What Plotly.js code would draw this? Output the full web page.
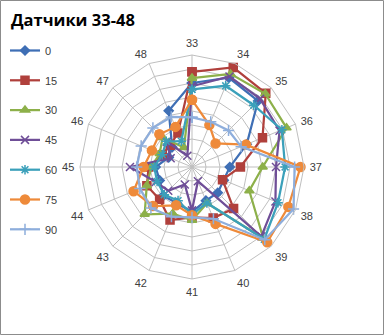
<!DOCTYPE html>
<html>
<head>
<meta charset="utf-8">
<script src="https://cdn.plot.ly/plotly-3.0.1.min.js"></script>
<style>html,body{margin:0;padding:0;background:#fff}#chart{width:384px;height:335px}</style>
</head>
<body>
<div id="chart"></div>
<script>
var categories = ["33","34","35","36","37","38","39","40","41","42","43","44","45","46","47","48"];
var seriesNames = ["0","15","30","45","60","75","90"];
var s0  = [6.0, 6.9, 6.67, 4.23, 2.7, 2.45, 2.6, 2.6, 3.2, 2.8, 2.9, 2.5, 2.6, 1.8, 2.0, 4.35];
var s15 = [6.8, 7.7, 7.45, 5.45, 3.46, 2.36, 4.2, 3.95, 3.6, 4.1, 3.27, 3.49, 3.1, 2.3, 2.2, 2.63];
var s30 = [6.34, 7.2, 7.4, 7.31, 5.05, 4.43, 7.2, 2.8, 3.8, 3.6, 4.78, 3.5, 2.9, 2.5, 2.97, 1.5];
var s45 = [5.77, 7.0, 6.88, 6.77, 6.0, 6.45, 7.0, 1.1, 3.1, 1.35, 2.4, 2.8, 4.43, 1.65, 2.55, 0.87];
var s60 = [5.54, 6.28, 6.24, 6.95, 6.65, 6.65, 7.3, 2.78, 3.4, 2.6, 2.8, 2.7, 2.7, 2.3, 2.6, 2.0];
var s75 = [4.8, 3.24, 2.38, 4.18, 7.75, 7.45, 7.6, 4.4, 3.45, 2.96, 3.94, 4.52, 3.46, 3.1, 3.3, 3.1];
var s90 = [3.55, 3.5, 3.69, 3.8, 7.33, 7.85, 7.35, 4.0, 3.6, 3.84, 4.15, 4.03, 3.95, 3.93, 3.95, 3.87];

var allSeries = [s0, s15, s30, s45, s60, s75, s90];
var colors = ["#3F6FB5", "#B0403C", "#8DB04A", "#6F4E97", "#3BA0BA", "#EE8A3A", "#8EAEDC"];
var symbols = ["diamond", "square", "triangle-up", "x-thin-open", "asterisk-open", "circle", "cross-thin-open"];
var sizes = [7, 8, 8, 8, 8, 9, 8];

var traces = allSeries.map(function(vals, i) {
  var r = vals.concat([vals[0]]);
  var th = categories.concat([categories[0]]);
  return {
    type: "scatterpolar",
    mode: "lines+markers",
    name: seriesNames[i],
    legendgroup: seriesNames[i],
    r: r,
    theta: th,
    line: {color: colors[i], width: 2.25},
    marker: {symbol: symbols[i], size: sizes[i], color: colors[i],
             line: {color: colors[i], width: 1.5}},
    cliponaxis: false
  };
});

var layout = {
  width: 384, height: 335,
  margin: {l: 0, r: 0, t: 0, b: 0},
  paper_bgcolor: "#ffffff",
  font: {family: "Liberation Sans, Arial, sans-serif", size: 11, color: "#404040"},
  title: {
    text: "<b>Датчики 33-48</b>",
    font: {family: "Open Sans, Noto Sans, sans-serif", size: 16.5, color: "#000000"},
    x: 11/384, xref: "paper", xanchor: "left",
    y: 1 - 20/335, yref: "paper", yanchor: "middle"
  },
  showlegend: true,
  legend: {
    x: 5/384, xanchor: "left",
    y: 1 - 36/335, yanchor: "top",
    traceorder: "grouped",
    tracegroupgap: 10.8,
    itemwidth: 30,
    font: {family: "Liberation Sans, Arial, sans-serif", size: 11, color: "#404040"},
    bgcolor: "rgba(0,0,0,0)"
  },
  polar: {
    domain: {x: [(192-112)/384, (192+112)/384], y: [(168-112)/335, (168+112)/335]},
    gridshape: "linear",
    bgcolor: "rgba(0,0,0,0)",
    angularaxis: {
      type: "category",
      categoryorder: "array",
      categoryarray: categories,
      rotation: 90,
      direction: "clockwise",
      showline: true,
      linecolor: "#bfbfbf",
      linewidth: 1,
      gridcolor: "#bfbfbf",
      ticks: "outside",
      ticklen: 3,
      tickcolor: "rgba(0,0,0,0)",
      tickfont: {family: "Liberation Sans, Arial, sans-serif", size: 11, color: "#404040"}
    },
    radialaxis: {
      range: [0, 8],
      dtick: 1,
      showticklabels: false,
      ticks: "",
      showline: false,
      gridcolor: "#bfbfbf"
    }
  },
  shapes: [{
    type: "rect", xref: "paper", yref: "paper",
    x0: 0.5/384, x1: 383.5/384, y0: 0.5/335, y1: 334.5/335,
    line: {color: "#8c8c8c", width: 1}
  }]
};

Plotly.newPlot("chart", traces, layout, {displayModeBar: false, staticPlot: true});
</script>
</body>
</html>
